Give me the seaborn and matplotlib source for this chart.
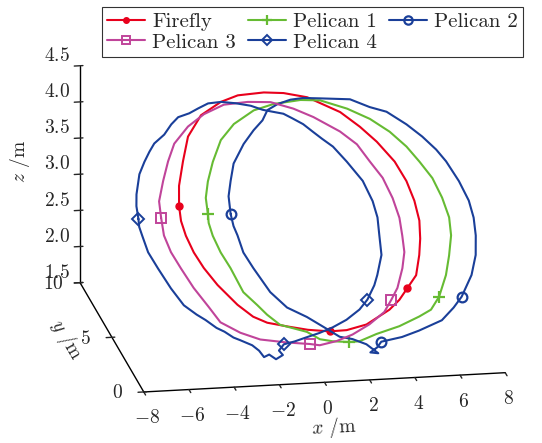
import matplotlib
matplotlib.use("Agg")
import matplotlib.pyplot as plt
import seaborn as sns
import pandas as pd
from matplotlib.lines import Line2D
from matplotlib.ticker import FuncFormatter

# Flight trajectories (metres)
firefly_x = [-4.78, -4.64, -4.29, -3.89, -3.16, -2.19, -1.39, -0.22, 0.65, 1.67, 3.02, 3.79, 4.43, 5.08, 5.46, 5.67, 5.75, 5.66, 5.50, 5.22, 4.74, 4.30, 3.79, 2.67, 1.75, 0.99, 0.04, -0.86, -1.71, -2.29, -2.90, -3.64, -4.13, -4.46, -4.69, -4.80, -4.78]
firefly_y = [5.88, 6.38, 7.00, 7.63, 8.18, 8.50, 8.68, 8.75, 8.73, 8.63, 8.25, 7.88, 7.50, 7.00, 6.50, 6.00, 5.50, 5.05, 4.63, 4.13, 3.80, 3.50, 3.25, 2.88, 2.73, 2.70, 2.75, 2.83, 2.93, 3.08, 3.38, 3.88, 4.30, 4.70, 5.13, 5.50, 5.88]
firefly_z = [3.13, 3.33, 3.57, 3.81, 4.01, 4.13, 4.18, 4.19, 4.17, 4.11, 3.94, 3.78, 3.62, 3.41, 3.21, 3.01, 2.81, 2.63, 2.47, 2.27, 2.15, 2.04, 1.95, 1.82, 1.78, 1.78, 1.81, 1.86, 1.91, 1.98, 2.11, 2.32, 2.50, 2.66, 2.83, 2.98, 3.13]

pelican1_x = [-3.56, -3.54, -3.33, -2.97, -2.46, -1.77, -0.79, 0.13, 1.35, 2.22, 3.35, 4.29, 5.07, 5.71, 6.18, 6.63, 6.92, 7.09, 7.05, 6.82, 6.54, 6.08, 5.63, 5.06, 4.11, 3.04, 2.24, 1.79, 1.05, 0.50, -0.02, -1.16, -1.66, -2.02, -2.55, -2.95, -3.27, -3.50, -3.59, -3.56]
pelican1_y = [5.68, 6.08, 6.50, 7.00, 7.55, 7.95, 8.30, 8.45, 8.55, 8.55, 8.33, 8.08, 7.75, 7.38, 7.00, 6.58, 6.08, 5.58, 5.13, 4.63, 4.13, 3.58, 3.25, 3.08, 2.83, 2.63, 2.45, 2.43, 2.45, 2.50, 2.70, 2.88, 3.13, 3.38, 3.70, 4.30, 4.70, 5.13, 5.45, 5.68]
pelican1_z = [3.03, 3.19, 3.35, 3.54, 3.75, 3.90, 4.02, 4.07, 4.09, 4.07, 3.97, 3.85, 3.71, 3.55, 3.39, 3.22, 3.02, 2.82, 2.64, 2.44, 2.25, 2.04, 1.92, 1.86, 1.78, 1.72, 1.66, 1.66, 1.68, 1.71, 1.79, 1.88, 1.99, 2.09, 2.23, 2.48, 2.64, 2.81, 2.94, 3.03]

pelican2_x = [-2.55, -2.52, -2.34, -2.10, -1.56, -1.06, -0.63, -0.36, 0.09, 0.65, 1.19, 1.89, 3.11, 3.87, 4.53, 5.27, 5.84, 6.33, 6.66, 7.06, 7.34, 7.43, 7.40, 7.27, 6.97, 6.42, 6.02, 5.45, 4.44, 3.70, 2.82, 2.62, 2.30, 2.62, 2.19, 1.65, 1.14, 0.58, -0.08, -0.84, -1.43, -1.97, -2.28, -2.41, -2.51, -2.55]
pelican2_y = [5.69, 6.12, 6.44, 6.82, 7.16, 7.37, 7.50, 7.68, 7.71, 7.66, 7.56, 7.38, 7.03, 6.63, 6.33, 5.82, 5.37, 4.92, 4.54, 3.94, 3.38, 2.94, 2.50, 2.05, 1.64, 1.24, 1.08, 0.91, 0.93, 0.96, 1.09, 1.00, 0.96, 0.85, 1.19, 1.46, 1.66, 2.03, 2.48, 2.90, 3.45, 4.18, 4.65, 5.11, 5.38, 5.69]
pelican2_z = [3.01, 3.19, 3.35, 3.53, 3.74, 3.89, 4.00, 4.11, 4.18, 4.24, 4.27, 4.28, 4.30, 4.24, 4.21, 4.10, 3.99, 3.87, 3.76, 3.57, 3.38, 3.21, 3.03, 2.83, 2.62, 2.39, 2.27, 2.13, 2.00, 1.92, 1.85, 1.79, 1.73, 1.73, 1.81, 1.85, 1.86, 1.94, 2.03, 2.11, 2.25, 2.48, 2.63, 2.80, 2.89, 3.01]

pelican3_x = [-5.66, -5.63, -5.31, -4.95, -4.55, -3.82, -3.02, -2.08, -1.00, 0.01, 0.97, 1.80, 2.87, 3.53, 3.98, 4.43, 4.73, 4.89, 4.89, 4.86, 4.66, 4.30, 3.95, 3.55, 2.80, 1.98, 1.23, 0.45, 0.02, -0.98, -2.14, -2.97, -3.78, -4.19, -4.72, -5.14, -5.47, -5.66, -5.66]
pelican3_y = [5.58, 6.00, 6.50, 7.00, 7.45, 7.88, 8.20, 8.43, 8.50, 8.50, 8.33, 8.13, 7.75, 7.43, 7.00, 6.58, 6.08, 5.58, 5.13, 4.70, 4.30, 3.80, 3.50, 3.20, 2.88, 2.63, 2.45, 2.35, 2.38, 2.43, 2.50, 2.68, 2.93, 3.33, 3.80, 4.30, 4.70, 5.13, 5.58]
pelican3_z = [3.03, 3.19, 3.39, 3.58, 3.75, 3.91, 4.02, 4.10, 4.11, 4.09, 4.01, 3.91, 3.75, 3.61, 3.43, 3.26, 3.05, 2.85, 2.67, 2.51, 2.35, 2.16, 2.05, 1.93, 1.82, 1.73, 1.68, 1.65, 1.67, 1.70, 1.75, 1.83, 1.95, 2.11, 2.31, 2.51, 2.68, 2.85, 3.03]

pelican4_x = [-6.38, -6.38, -6.30, -6.05, -5.76, -5.49, -5.24, -4.77, -4.41, -4.08, -3.60, -3.20, -2.76, -2.22, -1.62, -1.02, -0.56, -0.17, 0.27, 0.61, 1.02, 1.38, 1.70, 2.10, 2.57, 3.10, 3.38, 3.47, 3.43, 3.39, 3.09, 2.90, 2.52, 2.13, 1.53, 0.91, 0.34, -0.26, -0.74, -1.21, -1.45, -1.32, -1.63, -1.88, -2.11, -2.27, -2.52, -2.98, -3.24, -3.57, -3.87, -4.27, -4.61, -5.07, -5.49, -5.89, -6.20, -6.33, -6.40, -6.38]
pelican4_y = [6.58, 6.90, 7.17, 7.60, 7.84, 8.01, 8.14, 8.24, 8.41, 8.50, 8.47, 8.48, 8.49, 8.37, 8.18, 7.95, 7.73, 7.58, 7.41, 7.22, 6.97, 6.68, 6.42, 6.12, 5.62, 4.99, 4.43, 3.99, 3.56, 3.08, 2.67, 2.47, 2.20, 2.06, 1.98, 1.95, 1.97, 2.01, 2.04, 2.09, 2.01, 1.85, 1.83, 2.02, 2.01, 2.22, 2.41, 2.66, 2.80, 3.04, 3.22, 3.52, 3.73, 4.10, 4.63, 5.22, 5.70, 6.15, 6.39, 6.58]
pelican4_z = [2.87, 3.00, 3.12, 3.33, 3.46, 3.57, 3.66, 3.76, 3.87, 3.95, 4.00, 4.06, 4.12, 4.15, 4.15, 4.14, 4.11, 4.10, 4.09, 4.05, 4.00, 3.93, 3.87, 3.80, 3.66, 3.48, 3.28, 3.12, 2.94, 2.74, 2.53, 2.42, 2.27, 2.16, 2.04, 1.95, 1.88, 1.82, 1.77, 1.73, 1.66, 1.62, 1.57, 1.61, 1.58, 1.64, 1.69, 1.73, 1.75, 1.80, 1.83, 1.90, 1.95, 2.03, 2.19, 2.38, 2.54, 2.70, 2.79, 2.87]

vehicles = ["Firefly", "Pelican 1", "Pelican 2", "Pelican 3", "Pelican 4"]
x_ticks = [-8, -6, -4, -2, 0, 2, 4, 6, 8]
y_ticks = [0, 5, 10]
z_ticks = [1.5, 2.0, 2.5, 3.0, 3.5, 4.0, 4.5]

tracks = pd.concat([
    pd.DataFrame({"vehicle": name, "x": xs, "y": ys, "z": zs})
    for name, xs, ys, zs in [
        ("Firefly", firefly_x, firefly_y, firefly_z),
        ("Pelican 1", pelican1_x, pelican1_y, pelican1_z),
        ("Pelican 2", pelican2_x, pelican2_y, pelican2_z),
        ("Pelican 3", pelican3_x, pelican3_y, pelican3_z),
        ("Pelican 4", pelican4_x, pelican4_y, pelican4_z),
    ]
], ignore_index=True)

sns.set_theme(style="white")
plt.rcParams.update({
    "font.family": ["cmr10", "DejaVu Serif"],
    "mathtext.fontset": "cm",
    "axes.unicode_minus": False,
    "axes.formatter.use_mathtext": True,
    "font.size": 14,
})

palette = dict(zip(vehicles, ["#e8001c", "#66bb33", "#1a3f99", "#c0449a", "#1a3f99"]))
style = {
    "Firefly":   dict(marker="o", ms=5, mfc="#e8001c", mew=1.0, marks=[0, 20, 25]),
    "Pelican 1": dict(marker="+", ms=8, mfc="none", mew=1.6, marks=[0, 21, 27]),
    "Pelican 2": dict(marker="o", ms=7, mfc="none", mew=1.6, marks=[0, 25, 30]),
    "Pelican 3": dict(marker="s", ms=7, mfc="none", mew=1.4, marks=[0, 22, 28]),
    "Pelican 4": dict(marker="D", ms=6, mfc="none", mew=1.4, marks=[0, 32, 39]),
}

fig = plt.figure(figsize=(5.42, 4.43), dpi=100)
ax = fig.add_axes([0.030, 0.043, 1.0, 0.9], projection="3d", proj_type="ortho")
ax.computed_zorder = False
ax.view_init(elev=17.6, azim=-100)
ax.set_box_aspect((1, 1, 0.62), zoom=1.38)

for name, grp in tracks.groupby("vehicle", sort=False):
    st = style[name]
    ax.plot(grp["x"], grp["y"], grp["z"], color=palette[name], lw=1.5,
            marker=st["marker"], ms=st["ms"], mfc=st["mfc"], mew=st["mew"],
            markevery=st["marks"], label=name)

ax.set_xlim(-8, 8)
ax.set_ylim(0, 10)
ax.set_zlim(1.5, 4.5)
ax.set_xticks(x_ticks)
ax.set_yticks(y_ticks)
ax.set_zticks(z_ticks)
ax.xaxis.set_major_formatter(FuncFormatter(lambda v, p: f"${v:.0f}$"))
ax.yaxis.set_major_formatter(FuncFormatter(lambda v, p: f"${v:.0f}$"))
ax.zaxis.set_major_formatter(FuncFormatter(lambda v, p: f"${v:.1f}$"))
ax.tick_params(axis="both", labelsize=14, pad=0)
ax.tick_params(axis="y", pad=3)
ax.set_xlabel(r"$x$ /m", fontsize=14, labelpad=0)
ax.set_ylabel(r"$y$ /m", fontsize=14, labelpad=-2)
ax.set_zlabel(r"$z$ /m", fontsize=14, labelpad=0)
ax.grid(False)
for axis in (ax.xaxis, ax.yaxis, ax.zaxis):
    axis.pane.fill = False
    axis.pane.set_edgecolor("none")
    axis.line.set_color("black")
    axis.line.set_linewidth(1.0)
    axis._axinfo["tick"]["color"] = "black"
    axis._axinfo["tick"]["linewidth"] = {True: 1.0, False: 0.5}
# x ticks point into the box; y tick labels sit level with their ticks
ax.xaxis._axinfo["tick"]["inward_factor"] = 0.35
ax.xaxis._axinfo["tick"]["outward_factor"] = 0.0
ax.yaxis._axmask = lambda: [True, False, False]
for t in ax.yaxis.get_major_ticks():
    t.label1.set_verticalalignment("center")
for t in ax.zaxis.get_major_ticks():
    t.label1.set_verticalalignment("baseline")

order = ["Firefly", "Pelican 3", "Pelican 1", "Pelican 4", "Pelican 2"]
handles = [Line2D([], [], color=palette[n], lw=1.5, marker=style[n]["marker"],
                  ms=style[n]["ms"] - 1, mfc=style[n]["mfc"], mew=style[n]["mew"])
           for n in order]
leg = fig.legend(handles, order, ncol=3, loc="upper left",
                 bbox_to_anchor=(0.188, 0.984), frameon=True, fancybox=False,
                 edgecolor="black", handlelength=1.8, columnspacing=0.6,
                 handletextpad=0.35, borderpad=0.25, labelspacing=0.1, fontsize=15,
                 borderaxespad=0.0)
leg.get_frame().set_linewidth(0.8)

fig.savefig("out.png", dpi=100)
